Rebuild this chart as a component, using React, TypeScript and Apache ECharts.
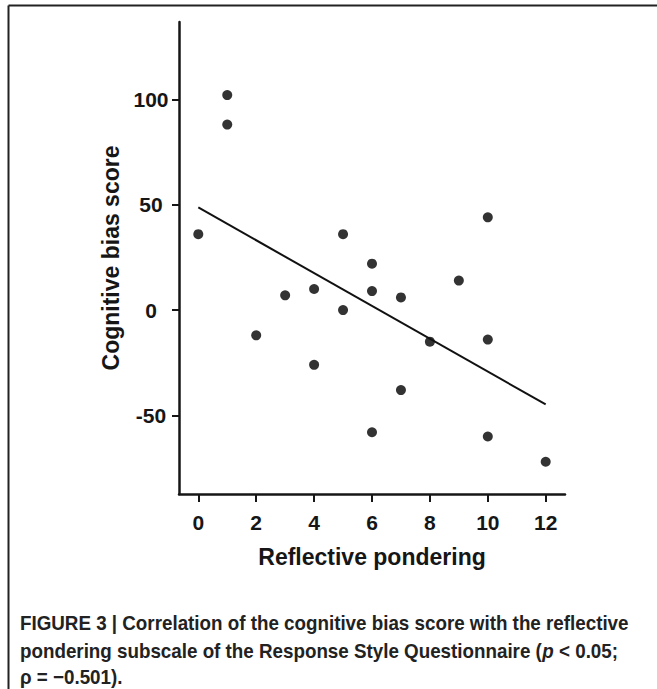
import React, { useEffect, useRef } from "react";
import * as echarts from "echarts";

const xTicks = [0, 2, 4, 6, 8, 10, 12];
const yTicks = [-50, 0, 50, 100];
const pondering = [1, 1, 0, 5, 10, 6, 9, 3, 4, 6, 7, 5, 2, 8, 10, 4, 7, 6, 10, 12];
const biasScore = [102, 88, 36, 36, 44, 22, 14, 7, 10, 9, 6, 0, -12, -15, -14, -26, -38, -58, -60, -72];
const fitX = [0, 12];
const fitY = [48.7, -44.8];
const xTitle = "Reflective pondering";
const yTitle = "Cognitive bias score";
const caption1 = "FIGURE 3 | Correlation of the cognitive bias score with the reflective";
const caption2a = "pondering subscale of the Response Style Questionnaire (";
const caption2p = "p";
const caption2b = " < 0.05;";
const caption3 = "ρ = −0.501).";

const FONT = "'Liberation Sans', Arial, Helvetica, sans-serif";
const INK = "#161616";

export default function App() {
  const ref = useRef<HTMLDivElement>(null);
  useEffect(() => {
    document.body.style.margin = "0";
    const chart = echarts.init(ref.current!, undefined, { renderer: "svg" });
    const points = pondering.map((x, i) => [x, biasScore[i]]);
    const fit = fitX.map((x, i) => [x, fitY[i]]);
    const capStyle = { fontFamily: FONT, fontWeight: "bold", fontSize: 20, fill: "#222" };
    chart.setOption({
      animation: false,
      backgroundColor: "#fff",
      grid: { left: 179, top: 22, right: 92, bottom: 195 },
      xAxis: {
        type: "value",
        min: -2 / 3,
        max: 38 / 3,
        splitLine: { show: false },
        axisLine: { onZero: false, lineStyle: { color: INK, width: 2.5 } },
        axisTick: { customValues: xTicks, length: 8, lineStyle: { color: INK, width: 2 } },
        axisLabel: {
          customValues: xTicks,
          margin: 28,
          verticalAlign: "middle",
          color: INK,
          fontFamily: FONT,
          fontWeight: "bold",
          fontSize: 21,
        },
        name: xTitle,
        nameLocation: "middle",
        nameGap: 51,
        nameTextStyle: { color: INK, fontFamily: FONT, fontWeight: "bold", fontSize: 23 },
      },
      yAxis: {
        type: "value",
        min: -87.3,
        max: 136.7,
        splitLine: { show: false },
        axisLine: { onZero: false, lineStyle: { color: INK, width: 2.5 } },
        axisTick: { customValues: yTicks, length: 7, lineStyle: { color: INK, width: 2 } },
        axisLabel: {
          customValues: yTicks,
          margin: 28,
          align: "center",
          color: INK,
          fontFamily: FONT,
          fontWeight: "bold",
          fontSize: 21,
        },
        name: yTitle,
        nameLocation: "middle",
        nameGap: 54,
        nameTextStyle: { color: INK, fontFamily: FONT, fontWeight: "bold", fontSize: 23 },
      },
      series: [
        {
          type: "scatter",
          data: points,
          symbol: "circle",
          symbolSize: 10,
          itemStyle: { color: "#000" },
          silent: true,
        },
        {
          type: "line",
          data: fit,
          showSymbol: false,
          lineStyle: { color: "#111", width: 2 },
          silent: true,
        },
      ],
      graphic: [
        { type: "line", shape: { x1: 8.5, y1: 5.5, x2: 657, y2: 5.5 }, style: { stroke: "#222", lineWidth: 2 } },
        { type: "line", shape: { x1: 8.5, y1: 5.5, x2: 8.5, y2: 689 }, style: { stroke: "#222", lineWidth: 2 } },
        {
          type: "group",
          x: 20,
          y: 0,
          scaleX: 0.94,
          children: [
            { type: "text", x: 0, y: 623, style: { ...capStyle, text: caption1, verticalAlign: "middle" } },
            {
              type: "text",
              x: 0,
              y: 651,
              style: {
                ...capStyle,
                text: caption2a + "{i|" + caption2p + "}" + caption2b,
                verticalAlign: "middle",
                rich: { i: { fontFamily: FONT, fontWeight: "bold", fontStyle: "italic", fontSize: 20, fill: "#222" } },
              },
            },
            { type: "text", x: 0, y: 677, style: { ...capStyle, text: caption3, verticalAlign: "middle" } },
          ],
        },
      ],
    });
    return () => chart.dispose();
  }, []);
  return <div ref={ref} style={{ width: 657, height: 689 }} />;
}
